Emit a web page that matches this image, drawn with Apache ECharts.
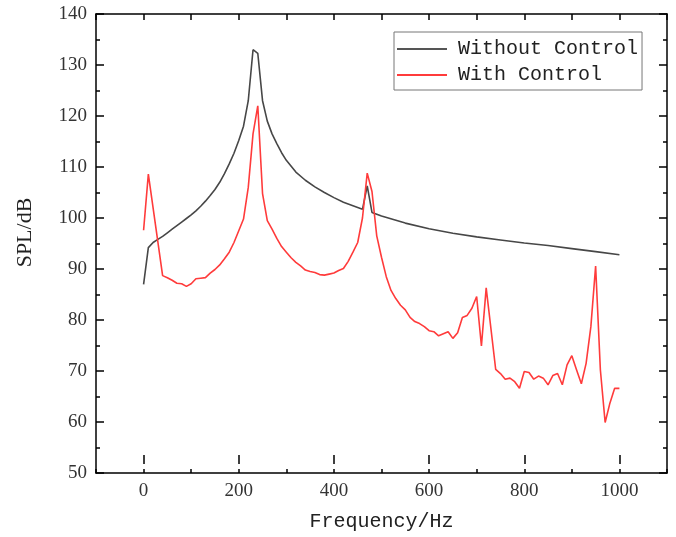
<!DOCTYPE html>
<html>
<head>
<meta charset="utf-8">
<script src="https://cdn.jsdelivr.net/npm/echarts@6/dist/echarts.min.js"></script>
<style>
html,body{margin:0;padding:0;background:#fff;}
#chart{width:676px;height:537px;}
</style>
</head>
<body>
<div id="chart"></div>
<script>
var freqNo = [0,10,20,30,40,50,60,70,80,90,100,110,120,130,140,150,160,170,180,190,200,210,220,230,240,250,260,270,280,290,300,320,340,360,380,400,420,440,460,470,480,500,550,600,650,700,750,800,850,900,950,1000];
var splNo = [87,94.2,95.2,95.8,96.4,97.1,97.8,98.5,99.2,99.9,100.6,101.4,102.3,103.3,104.4,105.6,107,108.7,110.6,112.7,115.2,118,123,133,132.3,123,119,116.5,114.6,112.8,111.3,109,107.4,106.1,105,104,103.1,102.4,101.7,106.3,101.1,100.4,99,97.9,97,96.3,95.7,95.1,94.6,94,93.4,92.8];

var freqWith = [0,10,40,50,60,70,80,90,100,110,120,130,140,150,160,170,180,190,200,210,220,230,240,250,260,270,280,290,300,310,320,330,340,350,360,370,380,390,400,410,420,430,440,450,460,470,480,490,500,510,520,530,540,550,560,570,580,590,600,610,620,630,640,650,660,670,680,690,700,710,720,740,750,760,770,780,790,800,810,820,830,840,850,860,870,880,890,900,910,920,930,940,950,960,970,980,990,1000];
var splWith = [97.6,108.6,88.7,88.3,87.8,87.2,87.1,86.6,87.1,88.1,88.2,88.3,89.2,89.9,90.8,92,93.3,95.2,97.5,99.8,106,116.5,122,104.8,99.5,97.8,96,94.4,93.3,92.2,91.3,90.6,89.8,89.5,89.3,88.9,88.8,89.0,89.2,89.7,90.1,91.5,93.3,95.2,100,108.8,105.2,96.5,92.3,88.5,85.8,84.2,82.9,82,80.5,79.7,79.3,78.7,77.9,77.7,76.9,77.3,77.7,76.4,77.5,80.5,80.9,82.3,84.6,74.9,86.3,70.3,69.5,68.4,68.6,67.9,66.6,69.9,69.7,68.4,69,68.6,67.3,69.1,69.5,67.3,71.2,73,70.2,67.5,71.5,78.7,90.6,70.2,59.9,63.7,66.6,66.6];

var seriesNames = ['Without Control','With Control'];
var xMin = -100, xMax = 1100, xLabelMin = 0, xLabelMax = 1000;

function pairs(xs, ys){ return xs.map(function(x,i){ return [x, ys[i]]; }); }

var W = 676, H = 537;
var gL = 96, gR = 9, gT = 14, gB = 64;
var pxPerUnit = (W - gL - gR) / (xMax - xMin);
var g2L = gL + (xLabelMin - xMin) * pxPerUnit;
var g2R = gR + (xMax - xLabelMax) * pxPerUnit;

var chart = echarts.init(document.getElementById('chart'), null, {renderer:'canvas'});
var axisLineStyle = {color:'#000', width:1.5};
var serif = 'Liberation Serif';
var mono = 'Liberation Mono';
var tickLine = {color:'#000', width:1.5};

chart.setOption({
  animation:false,
  backgroundColor:'#fff',
  grid:[
    {left:gL, right:gR, top:gT, bottom:gB, containLabel:false},
    {left:g2L, right:g2R, top:gT, bottom:gB, containLabel:false}
  ],
  legend:{
    orient:'vertical', left:394, top:32,
    data:[{name:seriesNames[0], icon:'rect'},{name:seriesNames[1], icon:'rect'}],
    borderColor:'#777', borderWidth:1, borderRadius:0,
    padding:[7,4,5,3], itemGap:6,
    itemWidth:50, itemHeight:2,
    textStyle:{fontFamily:mono, fontSize:20, color:'#222', padding:[0,0,0,6]}
  },
  xAxis:[
    {gridIndex:0, type:'value', min:xMin, max:xMax, interval:100, position:'bottom',
     axisLine:{show:true, onZero:false, lineStyle:axisLineStyle},
     axisTick:{show:true, inside:true, length:4, lineStyle:tickLine},
     axisLabel:{show:false}, splitLine:{show:false}},
    {gridIndex:0, type:'value', min:xMin, max:xMax, interval:100, position:'top',
     axisLine:{show:true, onZero:false, lineStyle:axisLineStyle},
     axisTick:{show:true, inside:true, length:6, lineStyle:tickLine},
     axisLabel:{show:false}, splitLine:{show:false}},
    {gridIndex:1, type:'value', min:xLabelMin, max:xLabelMax, interval:200, position:'bottom',
     axisLine:{show:false, onZero:false},
     axisTick:{show:true, inside:true, length:9, lineStyle:tickLine},
     axisLabel:{show:true, fontFamily:serif, fontSize:19, color:'#333', margin:18,
       formatter:function(v){ return String(v); }},
     splitLine:{show:false},
     name:'Frequency/Hz', nameLocation:'middle', nameGap:48,
     nameTextStyle:{fontFamily:mono, fontSize:20, color:'#222'}}
  ],
  yAxis:[
    {gridIndex:0, type:'value', min:50, max:140, interval:10, position:'left',
     axisLine:{show:true, onZero:false, lineStyle:axisLineStyle},
     axisTick:{show:true, inside:true, length:8, lineStyle:tickLine},
     minorTick:{show:true, splitNumber:2, length:4, lineStyle:tickLine},
     splitLine:{show:false},
     axisLabel:{show:true, fontFamily:serif, fontSize:19, color:'#333', margin:9},
     name:'SPL/dB', nameLocation:'middle', nameGap:60,
     nameTextStyle:{fontFamily:serif, fontSize:22, color:'#222', padding:[0,0,0,22]}},
    {gridIndex:0, type:'value', min:50, max:140, interval:10, position:'right',
     axisLine:{show:true, onZero:false, lineStyle:axisLineStyle},
     axisTick:{show:true, inside:true, length:8, lineStyle:tickLine},
     minorTick:{show:true, splitNumber:2, length:4, lineStyle:tickLine},
     splitLine:{show:false}, axisLabel:{show:false}},
    {gridIndex:1, type:'value', min:50, max:140, show:false}
  ],
  series:[
    {name:seriesNames[0], type:'line', xAxisIndex:0, yAxisIndex:0, symbol:'none', data:pairs(freqNo, splNo),
     lineStyle:{color:'#474747', width:1.6}, itemStyle:{color:'#555'}},
    {name:seriesNames[1], type:'line', xAxisIndex:0, yAxisIndex:0, symbol:'none', data:pairs(freqWith, splWith),
     lineStyle:{color:'#ff3b3b', width:1.6}, itemStyle:{color:'#ff3b3b'}}
  ]
});
</script>
</body>
</html>
